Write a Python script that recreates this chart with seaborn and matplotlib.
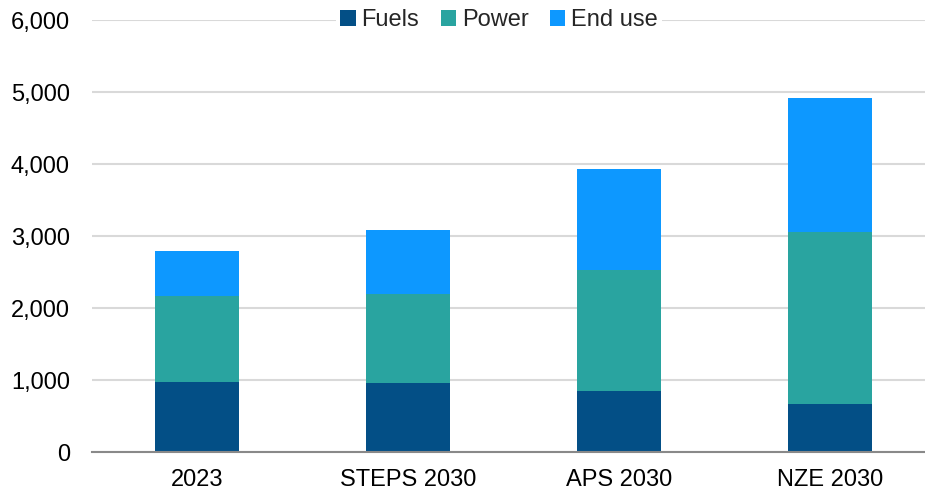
import matplotlib
matplotlib.use("Agg")
import matplotlib.pyplot as plt
import seaborn as sns
import numpy as np
import pandas as pd
from matplotlib.patches import Patch
from matplotlib.ticker import FuncFormatter

categories = ["2023", "STEPS 2030", "APS 2030", "NZE 2030"]
fuels = [968, 963, 852, 662]
power = [1194, 1231, 1671, 2394]
end_use = [626, 889, 1403, 1861]
series_names = ["Fuels", "Power", "End use"]
colors = ["#034F86", "#29A4A0", "#0D98FF"]

sns.set_theme(style="white")
plt.rcParams["font.family"] = ["Liberation Sans", "DejaVu Sans"]

fig = plt.figure(figsize=(9.25, 4.94), dpi=100)
ax = fig.add_axes([91.5 / 925, 42 / 494, 1 - 91.5 / 925, 432 / 494])

cum1 = np.array(fuels)
cum2 = cum1 + np.array(power)
cum3 = cum2 + np.array(end_use)
df = pd.DataFrame({"cat": categories, "c1": cum1, "c2": cum2, "c3": cum3})

for col, c in zip(["c3", "c2", "c1"], colors[::-1]):
    sns.barplot(data=df, x="cat", y=col, order=categories, color=c,
                saturation=1, width=0.4, ax=ax, edgecolor="none", linewidth=0)

ax.set_xlim(-0.5, 3.45)
ax.set_ylim(0, 6000)
ax.set_yticks(range(0, 6001, 1000))
ax.yaxis.set_major_formatter(FuncFormatter(lambda v, p: f"{int(v):,}"))
ax.grid(axis="y", color="#D9D9D9", linewidth=1.5)
ax.set_axisbelow(True)
for s in ["top", "right", "left"]:
    ax.spines[s].set_visible(False)
ax.spines["bottom"].set_color("#898989")
ax.spines["bottom"].set_linewidth(1.5)
ax.set_xlabel("")
ax.set_ylabel("")
ax.tick_params(axis="both", length=0, labelsize=17, colors="#000000")
ax.tick_params(axis="y", pad=15.5)
ax.tick_params(axis="x", pad=12)

handles = [Patch(facecolor=c, edgecolor="none") for c in colors]
leg = fig.legend(handles, series_names, loc="center",
                 bbox_to_anchor=(499 / 925, 1 - 20 / 494), ncol=3,
                 frameon=True, fontsize=17, handlelength=0.65, handleheight=0.65,
                 handletextpad=0.25, columnspacing=0.9, borderpad=0.2)
leg.get_frame().set_facecolor("white")
leg.get_frame().set_edgecolor("none")
leg.get_frame().set_alpha(1)

fig.savefig("out.png", dpi=100)
